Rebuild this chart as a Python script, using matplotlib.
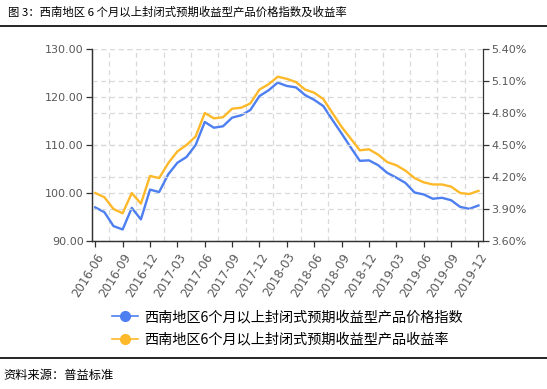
import pandas as pd
import matplotlib.pyplot as plt
import numpy as np

plt.rcParams['font.family'] = ['Noto Sans CJK SC', 'DejaVu Sans']

# monthly categories, 2016-06 .. 2019-12
months = [d.strftime('%Y-%m') for d in pd.date_range('2016-06-01', '2019-12-01', freq='MS')]

# price index (left axis)
price_index = [97.0, 96.0, 93.1, 92.4, 96.9, 94.5, 100.7, 100.2, 103.9, 106.3,
               107.5, 110.0, 114.8, 113.6, 113.9, 115.7, 116.2, 117.3, 120.2, 121.4,
               123.0, 122.3, 122.0, 120.4, 119.4, 118.1, 115.2, 112.4, 109.5, 106.7,
               106.8, 105.8, 104.2, 103.2, 102.1, 100.1, 99.7, 98.8, 99.0, 98.5,
               97.1, 96.7, 97.4]

# yield in % (right axis)
yield_rate = [4.05, 4.01, 3.90, 3.86, 4.05, 3.95, 4.21, 4.19, 4.33, 4.44,
              4.50, 4.58, 4.80, 4.75, 4.76, 4.84, 4.85, 4.89, 5.02, 5.07,
              5.14, 5.12, 5.09, 5.02, 4.99, 4.93, 4.80, 4.67, 4.56, 4.45,
              4.46, 4.41, 4.34, 4.31, 4.26, 4.19, 4.15, 4.13, 4.13, 4.11,
              4.05, 4.04, 4.07]

left_ticks = [90, 100, 110, 120, 130]
right_ticks = [3.6, 3.9, 4.2, 4.5, 4.8, 5.1, 5.4]

label_price = '西南地区6个月以上封闭式预期收益型产品价格指数'
label_yield = '西南地区6个月以上封闭式预期收益型产品收益率'
title = '图 3：西南地区 6 个月以上封闭式预期收益型产品价格指数及收益率'
source = '资料来源：普益标准'

blue = '#4d7ff0'
orange = '#fdb92a'
grid_c = '#d9d9d9'
txt_c = '#595959'
tick_font = ['DejaVu Sans']

fig = plt.figure(figsize=(5.47, 3.89), dpi=100)
ax = fig.add_axes([92/547, 1-241/389, (483-92)/547, (241-49)/389])
ax2 = ax.twinx()

x = np.arange(len(months))

# gridlines from both axes
for v in left_ticks:
    ax.axhline(v, color=grid_c, lw=0.9, ls=(0, (4, 3)), zorder=0)
for v in right_ticks:
    ax2.axhline(v, color=grid_c, lw=0.9, ls=(0, (4, 3)), zorder=0)
for v in np.arange(1.5, len(months) - 1, 3):
    ax.axvline(v, color=grid_c, lw=0.9, ls=(0, (4, 3)), zorder=0)

l1, = ax.plot(x, price_index, color=blue, lw=1.7, zorder=3)
l2, = ax2.plot(x, yield_rate, color=orange, lw=1.7, zorder=3)

ax.set_xlim(-0.36, len(months) - 1 + 0.5)
ax.set_ylim(90, 130)
ax2.set_ylim(3.6, 5.4)
ax.set_yticks(left_ticks)
ax.set_yticklabels(['{:.2f}'.format(v) for v in left_ticks], family=tick_font, fontsize=8)
ax2.set_yticks(right_ticks)
ax2.set_yticklabels(['{:.2f}%'.format(v) for v in right_ticks], family=tick_font, fontsize=8)

ax.set_xticks(x[::3])
ax.set_xticklabels(months[::3], rotation=58, ha='right', rotation_mode='anchor',
                   family=tick_font, fontsize=8.5)

for a in (ax, ax2):
    a.spines['top'].set_visible(False)
    for s in a.spines.values():
        s.set_color('#333333')
        s.set_linewidth(0.9)
    a.tick_params(colors='#333333', labelcolor=txt_c, length=4, width=0.9)
ax.tick_params(axis='x', pad=3)
ax.tick_params(axis='y', pad=2)
ax2.tick_params(axis='y', pad=2)
ax.spines['right'].set_visible(False)

# legend below the plot
h1, = ax.plot([], [], color=blue, lw=1.2, marker='o', ms=7)
h2, = ax.plot([], [], color=orange, lw=1.2, marker='o', ms=7)
fig.legend([h1, h2], [label_price, label_yield], loc='center left',
           bbox_to_anchor=(112/547, 1-328.5/389), frameon=False,
           fontsize=10.2, handlelength=1.8, handletextpad=0.45,
           labelspacing=0.62, borderpad=0, borderaxespad=0)

# title and source with rules
fig.text(8/547, 1-12/389, title, fontsize=8.2, va='center', ha='left')
fig.add_artist(plt.Line2D([0, 1], [1-26/389, 1-26/389], color='black', lw=1.2))
fig.add_artist(plt.Line2D([0, 1], [1-358/389, 1-358/389], color='black', lw=1.2))
fig.text(3/547, 1-376/389, source, fontsize=8.8, va='center', ha='left')

fig.savefig('out.png', dpi=100)
